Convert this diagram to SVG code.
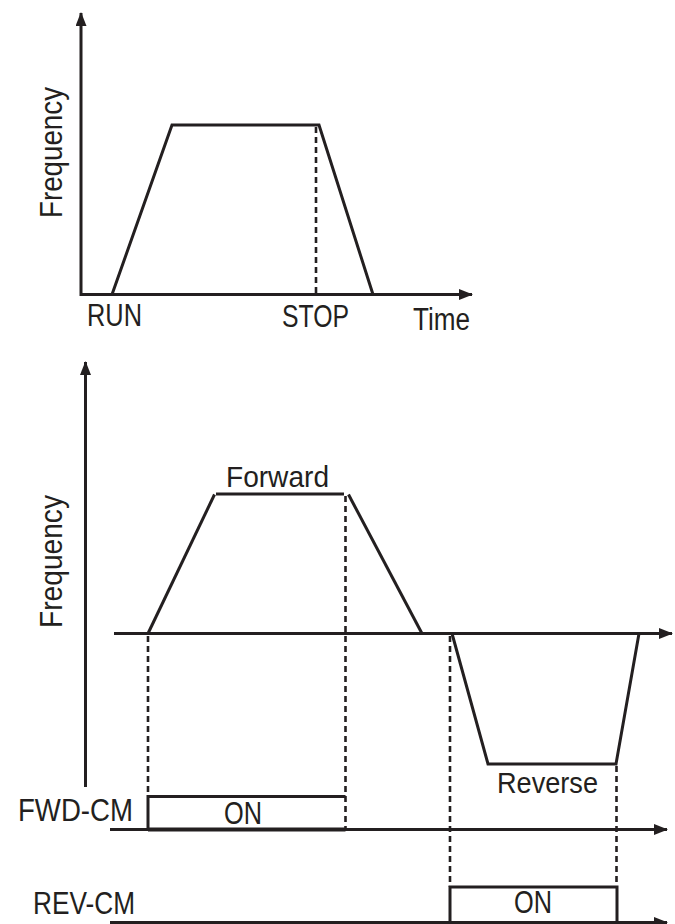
<svg xmlns="http://www.w3.org/2000/svg" width="675" height="924" viewBox="0 0 675 924">
<style>
.ax{stroke:#231f20;stroke-width:3;fill:none}
.ln{stroke:#231f20;stroke-width:3;fill:none;stroke-linejoin:miter}
.ds{stroke:#231f20;stroke-width:2.6;fill:none;stroke-dasharray:6,4}
.t{font-family:"Liberation Sans",Arial,sans-serif;fill:#231f20}
</style>
<defs>
<marker id="ar" viewBox="0 0 14 11" refX="13" refY="5.5" markerWidth="14" markerHeight="11" orient="auto" markerUnits="userSpaceOnUse">
<path d="M0,0 L14,5.5 L0,11 z" fill="#231f20"/>
</marker>
</defs>
<g id="connectors">
<line class="ax" x1="81" y1="296" x2="81" y2="13" marker-end="url(#ar)"/>
<line class="ax" x1="80" y1="294.5" x2="472" y2="294.5" marker-end="url(#ar)"/>
<line class="ax" x1="85.5" y1="787" x2="85.5" y2="362" marker-end="url(#ar)"/>
<line class="ax" x1="114" y1="633.5" x2="672" y2="633.5" marker-end="url(#ar)"/>
<line class="ax" x1="110" y1="829.5" x2="667" y2="829.5" marker-end="url(#ar)"/>
<line class="ax" x1="110" y1="922.5" x2="667" y2="922.5" marker-end="url(#ar)"/>
<line class="ds" x1="316" y1="127" x2="316" y2="293"/>
<line class="ds" x1="148" y1="636" x2="148" y2="796"/>
<line class="ds" x1="345.5" y1="496" x2="345.5" y2="829"/>
<line class="ds" x1="450" y1="636" x2="450" y2="887"/>
<line class="ds" x1="616.5" y1="766" x2="616.5" y2="887"/>
</g>
<g id="top-profile">
<polyline class="ln" points="112,294.5 172,125 319,125 373,294.5"/>
</g>
<g id="forward-profile">
<polyline class="ln" points="148,633.5 214.5,494.5"/>
<line class="ln" x1="216" y1="494" x2="344" y2="494"/>
<polyline class="ln" points="348.5,494.5 422,633.5"/>
</g>
<g id="reverse-profile">
<polyline class="ln" points="452,633.5 488,764 616,764 639,633.5"/>
</g>
<g id="fwd-box">
<polyline class="ln" points="148,829.5 148,796.5 345.5,796.5"/>
<line x1="148" y1="829.5" x2="345.5" y2="829.5" stroke="#231f20" stroke-width="4"/>
</g>
<g id="rev-box">
<polyline class="ln" points="450,922.5 450,887 617,887 617,922.5"/>
</g>
<g id="labels">
<text class="t" font-size="31" transform="translate(62,218) rotate(-90)" textLength="131" lengthAdjust="spacingAndGlyphs">Frequency</text>
<text class="t" font-size="31" transform="translate(62,628) rotate(-90)" textLength="133" lengthAdjust="spacingAndGlyphs">Frequency</text>
<text class="t" font-size="31" x="87" y="326" textLength="55" lengthAdjust="spacingAndGlyphs">RUN</text>
<text class="t" font-size="31" x="282" y="327" textLength="67" lengthAdjust="spacingAndGlyphs">STOP</text>
<text class="t" font-size="31" x="413" y="330" textLength="57" lengthAdjust="spacingAndGlyphs">Time</text>
<text class="t" font-size="30" x="226" y="487" textLength="103" lengthAdjust="spacingAndGlyphs">Forward</text>
<text class="t" font-size="30" x="497" y="793" textLength="101" lengthAdjust="spacingAndGlyphs">Reverse</text>
<text class="t" font-size="31" x="18" y="821" textLength="115" lengthAdjust="spacingAndGlyphs">FWD-CM</text>
<text class="t" font-size="31" x="224" y="824" textLength="38" lengthAdjust="spacingAndGlyphs">ON</text>
<text class="t" font-size="31" x="33" y="914" textLength="102" lengthAdjust="spacingAndGlyphs">REV-CM</text>
<text class="t" font-size="31" x="514" y="913" textLength="38" lengthAdjust="spacingAndGlyphs">ON</text>
</g>
</svg>
